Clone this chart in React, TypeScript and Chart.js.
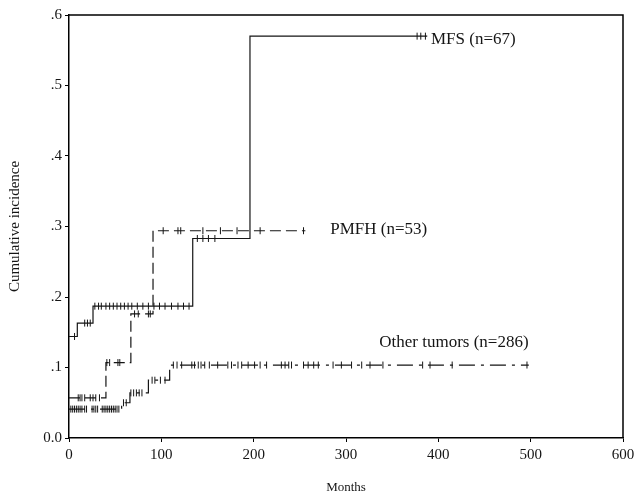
import React, { useEffect, useRef } from "react";
import { Chart, registerables } from "chart.js";

Chart.register(...registerables);

// MFS (n=67) – solid step curve
const mfsMonths = [0, 9, 26, 134, 196, 388];
const mfsIncidence = [0.144, 0.163, 0.187, 0.283, 0.57, 0.57];
const mfsCensored = [6, 17, 20, 23, 28, 32, 35, 40, 44, 48, 52, 56, 60, 64, 68, 74, 80, 86, 92, 98, 104, 111, 118, 124, 130, 139, 145, 151, 158, 377, 381, 386];

// PMFH (n=53) – dashed step curve
const pmfhMonths = [0, 40, 67, 91, 256];
const pmfhIncidence = [0.057, 0.107, 0.176, 0.294, 0.294];
const pmfhCensored = [10, 12, 14, 17, 23, 26, 29, 33, 41, 44, 53, 55, 71, 75, 86, 88, 102, 118, 121, 145, 164, 182, 207, 254];

// Other tumors (n=286) – dash-dot step curve
const otherMonths = [0, 57, 66, 86, 109, 498];
const otherIncidence = [0.041, 0.05, 0.064, 0.082, 0.1035, 0.1035];
const otherCensored = [2, 4, 6, 8, 10, 12, 14, 17, 19, 25, 27, 29, 31, 36, 38, 40, 42, 44, 46, 48, 50, 52, 54, 59, 62, 67, 70, 73, 76, 79, 90, 93, 99, 104, 113, 117, 122, 133, 136, 140, 143, 147, 152, 161, 172, 176, 183, 187, 194, 201, 207, 214, 230, 234, 238, 241, 254, 259, 265, 270, 286, 295, 306, 317, 326, 340, 383, 391, 415, 496];

const seriesLabels = ["MFS (n=67)", "PMFH (n=53)", "Other tumors (n=286)"];
// label anchors (months, incidence)
const labelMonths = [392, 283, 336];
const labelIncidence = [0.565, 0.296, 0.136];

const yTicks = [0, 0.1, 0.2, 0.3, 0.4, 0.5, 0.6];
const yTickLabels = ["0.0", ".1", ".2", ".3", ".4", ".5", ".6"];

const FONT = "'Liberation Serif', 'Times New Roman', serif";
const INK = "#151515";

function stepValue(months: number[], values: number[], t: number): number {
  let v = values[0];
  for (let i = 0; i < months.length; i++) if (months[i] <= t) v = values[i];
  return v;
}
const curve = (m: number[], v: number[]) => m.map((x, i) => ({ x, y: v[i] }));
const marks = (m: number[], v: number[], c: number[]) => c.map((t) => ({ x: t, y: stepValue(m, v, t) }));

const lineStyle = (data: any[], dash: number[]) => ({
  type: "line" as const,
  data,
  stepped: true,
  borderColor: INK,
  borderWidth: 1.2,
  borderDash: dash,
  pointRadius: 0,
  fill: false,
});
const censorStyle = (data: any[]) => ({
  type: "scatter" as const,
  data,
  pointStyle: "line",
  rotation: 90,
  pointRadius: 3.5,
  borderColor: INK,
  backgroundColor: INK,
  pointBorderWidth: 1,
  showLine: false,
});

const framePlugin = {
  id: "frameAndLabels",
  afterDraw(chart: any) {
    const { ctx, chartArea, scales } = chart;
    ctx.save();
    ctx.strokeStyle = "#000";
    ctx.lineWidth = 1.5;
    ctx.beginPath();
    ctx.moveTo(chartArea.left, chartArea.top);
    ctx.lineTo(chartArea.right, chartArea.top);
    ctx.lineTo(chartArea.right, chartArea.bottom);
    ctx.stroke();
    ctx.fillStyle = INK;
    ctx.font = `17px ${FONT}`;
    ctx.textBaseline = "middle";
    ctx.textAlign = "left";
    seriesLabels.forEach((txt, i) => {
      ctx.fillText(txt, scales.x.getPixelForValue(labelMonths[i]), scales.y.getPixelForValue(labelIncidence[i]));
    });
    ctx.restore();
  },
};

export default function App() {
  const ref = useRef<HTMLCanvasElement>(null);
  useEffect(() => {
    if (!ref.current) return;
    const chart = new Chart(ref.current, {
      type: "line",
      data: {
        datasets: [
          lineStyle(curve(mfsMonths, mfsIncidence), []),
          lineStyle(curve(pmfhMonths, pmfhIncidence), [11, 5]),
          lineStyle(curve(otherMonths, otherIncidence), [16, 6, 3, 6]),
          censorStyle(marks(mfsMonths, mfsIncidence, mfsCensored)),
          censorStyle(marks(pmfhMonths, pmfhIncidence, pmfhCensored)),
          censorStyle(marks(otherMonths, otherIncidence, otherCensored)),
        ] as any,
      },
      options: {
        animation: false,
        responsive: true,
        maintainAspectRatio: false,
        layout: { padding: { top: 15, right: 12, left: 0, bottom: 0 } },
        plugins: { legend: { display: false }, tooltip: { enabled: false } },
        scales: {
          x: {
            type: "linear",
            min: 0,
            max: 600,
            ticks: { stepSize: 100, color: INK, font: { family: FONT, size: 15 }, padding: 4, maxRotation: 0 },
            grid: { drawOnChartArea: false, drawTicks: true, tickLength: 4, color: "#000" },
            border: { color: "#000", width: 1.5 },
            title: { display: true, text: "Months", color: INK, font: { family: FONT, size: 13 }, padding: { top: 0, bottom: 0 } },
            afterFit: (s: any) => {
              s.height = 57;
              s.paddingLeft = 0;
              s.paddingRight = 0;
            },
          },
          y: {
            type: "linear",
            min: 0,
            max: 0.6,
            afterBuildTicks: (s: any) => { s.ticks = yTicks.map((v) => ({ value: v })); },
            ticks: {
              color: INK,
              font: { family: FONT, size: 15 },
              padding: 3,
              callback: (v: any) => {
                const i = yTicks.findIndex((t) => Math.abs(t - Number(v)) < 1e-6);
                return i >= 0 ? yTickLabels[i] : "";
              },
            },
            grid: { drawOnChartArea: false, drawTicks: true, tickLength: 4, color: "#000" },
            border: { color: "#000", width: 1.5 },
            title: { display: true, text: "Cumulative incidence", color: INK, font: { family: FONT, size: 15 }, padding: { top: 6, bottom: 0 } },
            afterFit: (s: any) => {
              s.width = 69;
              s.paddingTop = 0;
              s.paddingBottom = 0;
            },
          },
        },
      } as any,
      plugins: [framePlugin],
    });
    return () => chart.destroy();
  }, []);
  return (
    <div style={{ position: "absolute", left: 0, top: 0, width: 635, height: 495, background: "#fff" }}>
      <canvas ref={ref} />
    </div>
  );
}
